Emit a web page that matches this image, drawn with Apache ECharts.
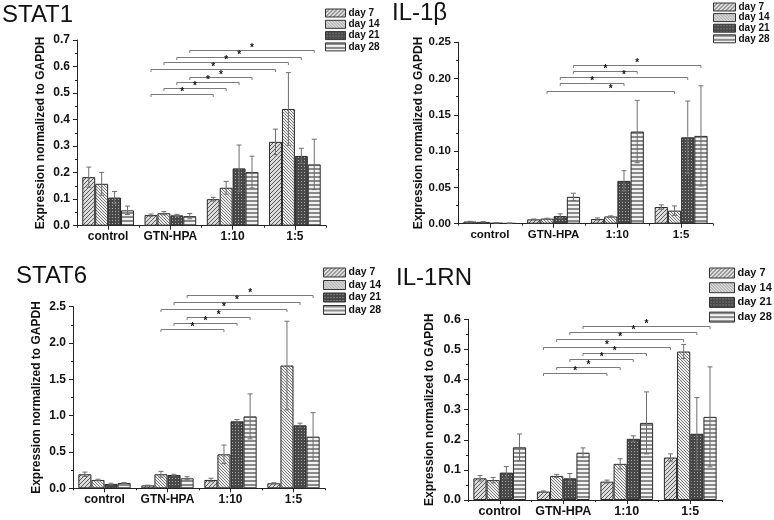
<!DOCTYPE html>
<html>
<head>
<meta charset="utf-8">
<script src="https://cdn.jsdelivr.net/npm/echarts@6/dist/echarts.min.js"></script>
<style>html,body{margin:0;padding:0;background:#fff;}#c{width:774px;height:520px;}</style>
</head>
<body>
<div id="c"></div>
<script>
// ---------- data ----------
const categories = ['control', 'GTN-HPA', '1:10', '1:5'];
const days = ['day 7', 'day 14', 'day 21', 'day 28'];
const panelTitles = ['STAT1', 'IL-1β', 'STAT6', 'IL-1RN'];
const yTitle = 'Expression normalized to GAPDH';

// means [day][category]
const stat1Mean = [[0.183, 0.040, 0.100, 0.316], [0.158, 0.047, 0.143, 0.440], [0.106, 0.039, 0.216, 0.263], [0.058, 0.036, 0.202, 0.231]];
const stat1Err  = [[0.038, 0.004, 0.007, 0.048], [0.043, 0.006, 0.024, 0.137], [0.023, 0.004, 0.088, 0.029], [0.016, 0.010, 0.060, 0.095]];
const il1bMean  = [[0.003, 0.006, 0.0065, 0.023], [0.0025, 0.007, 0.010, 0.018], [0.0012, 0.0105, 0.059, 0.119], [0.0008, 0.037, 0.127, 0.121]];
const il1bErr   = [[0.0003, 0.0005, 0.0015, 0.003], [0.0003, 0.0005, 0.0008, 0.0065], [0.0002, 0.003, 0.014, 0.050], [0.0001, 0.005, 0.043, 0.069]];
const stat6Mean = [[0.193, 0.040, 0.115, 0.069], [0.115, 0.193, 0.468, 1.69], [0.060, 0.183, 0.922, 0.867], [0.073, 0.138, 0.990, 0.711]];
const stat6Err  = [[0.030, 0.003, 0.023, 0.008], [0.010, 0.040, 0.128, 0.610], [0.010, 0.010, 0.025, 0.030], [0.005, 0.022, 0.310, 0.330]];
const il1rnMean = [[0.072, 0.028, 0.061, 0.141], [0.066, 0.080, 0.120, 0.493], [0.091, 0.072, 0.203, 0.220], [0.175, 0.157, 0.256, 0.276]];
const il1rnErr  = [[0.009, 0.002, 0.005, 0.012], [0.009, 0.005, 0.017, 0.023], [0.020, 0.016, 0.010, 0.120], [0.044, 0.016, 0.103, 0.166]];

// significance brackets: [fromCategory, toCategory, dayIndex, yValue]
const stat1Sig = [[1,3,3,0.662],[1,3,2,0.637],[1,3,1,0.616],[1,3,0,0.591],[1,2,3,0.562],[1,2,2,0.543],[1,2,1,0.520],[1,2,0,0.498]];
const il1bSig  = [[1,3,3,0.219],[1,2,3,0.211],[1,3,2,0.202],[1,2,2,0.194],[1,3,1,0.183]];
const stat6Sig = [[1,3,3,2.66],[1,3,2,2.57],[1,3,1,2.47],[1,2,3,2.36],[1,2,2,2.28],[1,2,1,2.19]];
const il1rnSig = [[1,3,3,0.579],[1,3,2,0.557],[1,3,1,0.535],[1,3,0,0.509],[1,2,3,0.487],[1,2,2,0.467],[1,2,1,0.443],[1,2,0,0.421]];

const yMax = [0.7, 0.25, 2.5, 0.6];
const yInterval = [0.1, 0.05, 0.5, 0.1];
const yDecimals = [1, 2, 1, 1];

// ---------- styles ----------
const FONT = '"Liberation Sans", Arial, Helvetica, sans-serif';
const CAT_GAP = 0.17;

function pattern(kind) {
  const c = document.createElement('canvas');
  let ctx;
  if (kind === 0) { // ////
    c.width = 4; c.height = 4; ctx = c.getContext('2d');
    ctx.fillStyle = '#dcdcdc'; ctx.fillRect(0, 0, 4, 4);
    ctx.strokeStyle = '#5a5a5a'; ctx.lineWidth = 1;
    ctx.beginPath();
    ctx.moveTo(-1, 5); ctx.lineTo(5, -1);
    ctx.moveTo(-1, 1); ctx.lineTo(1, -1);
    ctx.moveTo(3, 5); ctx.lineTo(5, 3);
    ctx.stroke();
  } else if (kind === 1) { // \\\\
    c.width = 3; c.height = 3; ctx = c.getContext('2d');
    ctx.fillStyle = '#eeeeee'; ctx.fillRect(0, 0, 3, 3);
    ctx.fillStyle = '#7a7a7a';
    for (let i = 0; i < 3; i++) ctx.fillRect(i, i, 1, 1);
  } else if (kind === 2) { // dark crosshatch
    c.width = 3; c.height = 3; ctx = c.getContext('2d');
    ctx.fillStyle = '#484848'; ctx.fillRect(0, 0, 3, 3);
    ctx.fillStyle = '#a8a8a8';
    ctx.fillRect(1, 1, 1, 1);
  } else { // horizontal lines
    c.width = 4; c.height = 4; ctx = c.getContext('2d');
    ctx.fillStyle = '#f2f2f2'; ctx.fillRect(0, 0, 4, 4);
    ctx.fillStyle = '#8a8a8a'; ctx.fillRect(0, 0, 4, 2);
  }
  return { image: c, repeat: 'repeat' };
}
const fills = [pattern(0), pattern(1), pattern(2), pattern(3)];

const means = [stat1Mean, il1bMean, stat6Mean, il1rnMean];
const errs = [stat1Err, il1bErr, stat6Err, il1rnErr];
const sigs = [stat1Sig, il1bSig, stat6Sig, il1rnSig];

// layout per panel (pixels)
const grids = [
  { left: 77, top: 40, width: 249, height: 185.7 },
  { left: 458, top: 42.3, width: 255, height: 181.4 },
  { left: 73, top: 306.7, width: 252, height: 181.6 },
  { left: 468, top: 319.3, width: 254, height: 180.7 }
];
const titlePos = [[2, 3], [392, 1], [16, 264], [396, 266]];
const legendPos = [
  { left: 325, top: 8, w: 20, h: 8, lh: 10, gap: 1.3, fs: 10 },
  { left: 713, top: 2, w: 22, h: 8, lh: 9, gap: 0.6, fs: 10 },
  { left: 323, top: 267, w: 22, h: 9, lh: 10, gap: 1.5, fs: 10.5 },
  { left: 709, top: 267, w: 25, h: 10, lh: 12, gap: 2.7, fs: 11 }
];
const tickFont = [12, 11.5, 12, 12.5];

function barX(api, cat, day) {
  const base = api.coord([cat, 0]);
  const band = api.size([1, 0])[0];
  const groupW = band * (1 - CAT_GAP);
  const bw = groupW / 4;
  return base[0] - groupW / 2 + bw * (day + 0.5);
}

function errRender(params, api) {
  const cat = api.value(0), mean = api.value(1), err = api.value(2), day = api.value(3);
  const x = barX(api, cat, day);
  const yT = api.coord([cat, mean + err])[1];
  const yB = api.coord([cat, Math.max(0, mean - err)])[1];
  const cap = 2.5;
  const st = { stroke: '#6e6e6e', lineWidth: 1 };
  return {
    type: 'group',
    children: [
      { type: 'line', shape: { x1: x, y1: yT, x2: x, y2: yB }, style: st },
      { type: 'line', shape: { x1: x - cap, y1: yT, x2: x + cap, y2: yT }, style: st },
      { type: 'line', shape: { x1: x - cap, y1: yB, x2: x + cap, y2: yB }, style: st }
    ]
  };
}

function sigRender(params, api) {
  const from = api.value(0), to = api.value(1), day = api.value(2), v = api.value(3);
  const x1 = barX(api, from, day);
  const x2 = barX(api, to, day);
  const y = Math.round(api.coord([from, v])[1]) + 0.5;
  const st = { stroke: '#7a7a7a', lineWidth: 1 };
  return {
    type: 'group',
    children: [
      { type: 'line', shape: { x1: x1, y1: y, x2: x2, y2: y }, style: st },
      { type: 'line', shape: { x1: x1, y1: y, x2: x1, y2: y + 2.5 }, style: st },
      { type: 'line', shape: { x1: x2, y1: y, x2: x2, y2: y + 2.5 }, style: st },
      { type: 'text', style: { text: '*', x: (x1 + x2) / 2, y: y + 3, align: 'center', verticalAlign: 'bottom', font: 'bold 10px ' + FONT, fill: '#111' } }
    ]
  };
}

const option = {
  backgroundColor: '#fff',
  animation: false,
  title: panelTitles.map((t, i) => ({
    text: t, left: titlePos[i][0], top: titlePos[i][1], padding: 0,
    textStyle: { fontFamily: FONT, fontSize: 24, fontWeight: 'normal', color: '#111' }
  })),
  legend: legendPos.map((p) => ({
    data: days, orient: 'vertical', left: p.left, top: p.top, padding: 0,
    itemWidth: p.w, itemHeight: p.h, itemGap: p.gap, icon: 'rect',
    selectedMode: false,
    itemStyle: { borderColor: '#333', borderWidth: 1 },
    textStyle: { fontFamily: FONT, fontSize: p.fs, fontWeight: 'bold', color: '#111', lineHeight: p.lh, padding: [0, 0, 0, -2] }
  })),
  grid: grids.map(g => Object.assign({ containLabel: false }, g)),
  xAxis: [],
  yAxis: [],
  series: []
};

for (let i = 0; i < 4; i++) {
  option.xAxis.push({
    type: 'category', data: categories, gridIndex: i, position: 'bottom',
    axisLine: { show: true, lineStyle: { color: '#222', width: 1 } },
    axisTick: { show: true, alignWithLabel: true, length: 4, lineStyle: { color: '#222' } },
    axisLabel: { interval: 0, fontFamily: FONT, fontSize: tickFont[i], fontWeight: 'bold', color: '#111', margin: 5 }
  });
  option.xAxis.push({
    type: 'category', data: categories, gridIndex: i, position: 'bottom',
    axisLine: { show: false },
    axisTick: { show: true, interval: 0, length: 2, lineStyle: { color: '#222' } },
    axisLabel: { show: false }
  });
  option.yAxis.push({
    type: 'value', gridIndex: i, min: 0, max: yMax[i], interval: yInterval[i],
    name: yTitle, nameLocation: 'middle', nameGap: i === 3 ? 32 : 30,
    nameTextStyle: { fontFamily: FONT, fontSize: 12, fontWeight: 'bold', color: '#111' },
    axisLine: { show: true, lineStyle: { color: '#222', width: 1 } },
    axisTick: { show: true, length: 4, lineStyle: { color: '#222' } },
    minorTick: { show: true, splitNumber: 2, length: 2, lineStyle: { color: '#222' } },
    splitLine: { show: false },
    axisLabel: {
      fontFamily: FONT, fontSize: tickFont[i], fontWeight: 'bold', color: '#111', margin: 7,
      formatter: (v) => v.toFixed(yDecimals[i])
    }
  });
  for (let d = 0; d < 4; d++) {
    option.series.push({
      type: 'bar', name: days[d], xAxisIndex: 2 * i, yAxisIndex: i,
      data: means[i][d], barGap: '0%', barCategoryGap: (CAT_GAP * 100) + '%',
      itemStyle: { color: fills[d], borderColor: '#2a2a2a', borderWidth: 1 },
      emphasis: { disabled: true }
    });
  }
  const errData = [];
  for (let d = 0; d < 4; d++) {
    for (let c = 0; c < 4; c++) errData.push([c, means[i][d][c], errs[i][d][c], d]);
  }
  option.series.push({
    type: 'custom', xAxisIndex: 2 * i, yAxisIndex: i, renderItem: errRender,
    data: errData, encode: { x: 0, y: 1 }, z: 5, clip: false, silent: true
  });
  option.series.push({
    type: 'custom', xAxisIndex: 2 * i, yAxisIndex: i, renderItem: sigRender,
    data: sigs[i], encode: { x: 0, y: 3 }, z: 5, clip: false, silent: true
  });
}

const chart = echarts.init(document.getElementById('c'), null, { renderer: 'canvas' });
chart.setOption(option);
</script>
</body>
</html>
